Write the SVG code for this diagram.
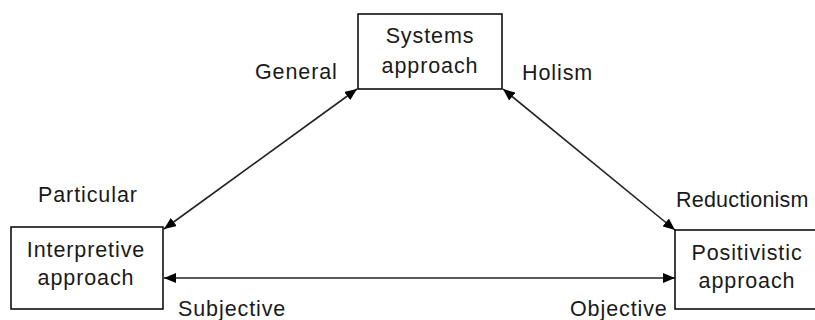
<svg xmlns="http://www.w3.org/2000/svg" width="815" height="320" viewBox="0 0 815 320">
<style>
.box{fill:#fff;stroke:#000;stroke-width:1.5}
.t{font-family:"Liberation Sans",Arial,sans-serif;font-size:21.5px;letter-spacing:0.9px;fill:#1a1a1a}
.c{text-anchor:middle}
.ln{stroke:#222;stroke-width:1.6;fill:none;marker-start:url(#ah);marker-end:url(#ah)}
</style>
<defs>
<marker id="ah" viewBox="0 0 12 10" refX="12" refY="5" markerWidth="12" markerHeight="10" markerUnits="userSpaceOnUse" orient="auto-start-reverse">
<path d="M0,0 L12,5 L0,10 z" fill="#000"/>
</marker>
</defs>
<g id="connectors">
<line class="ln" x1="357" y1="89" x2="164" y2="229"/>
<line class="ln" x1="503" y1="89" x2="675" y2="230"/>
<line class="ln" x1="164" y1="278" x2="675" y2="278"/>
</g>
<g id="systems">
<rect class="box" x="358" y="14" width="144" height="75"/>
<text class="t c" x="430" y="43">Systems</text>
<text class="t c" x="430" y="73">approach</text>
</g>
<g id="interpretive">
<rect class="box" x="11" y="227" width="152" height="82"/>
<text class="t c" x="86" y="257">Interpretive</text>
<text class="t c" x="86" y="285">approach</text>
</g>
<g id="positivistic">
<rect class="box" x="675" y="230" width="160" height="79"/>
<text class="t c" x="747" y="260">Positivistic</text>
<text class="t c" x="747" y="288">approach</text>
</g>
<g id="labels">
<text class="t" x="255" y="79">General</text>
<text class="t" x="522" y="80">Holism</text>
<text class="t" x="38" y="202">Particular</text>
<text class="t" x="676" y="207" style="letter-spacing:0.2px">Reductionism</text>
<text class="t" x="178" y="316">Subjective</text>
<text class="t" x="570" y="316">Objective</text>
</g>
</svg>
